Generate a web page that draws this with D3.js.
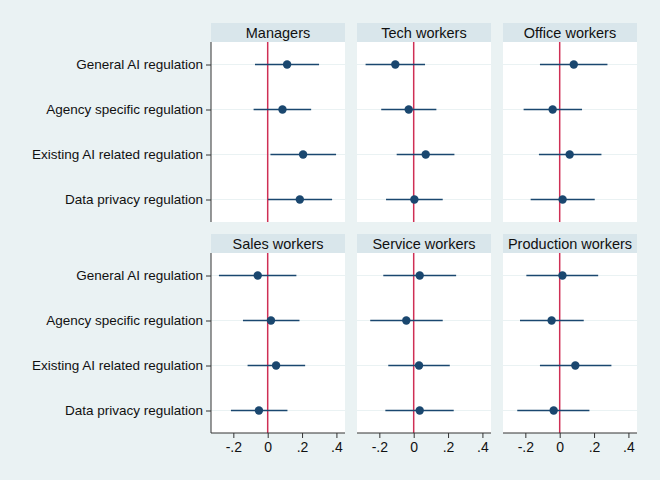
<!DOCTYPE html>
<html>
<head>
<meta charset="utf-8">
<script src="https://cdn.jsdelivr.net/npm/d3@7"></script>
<style>
  body { margin: 0; background: #eaf2f3; }
  svg { display: block; font-family: "Liberation Sans", Arial, sans-serif; }
</style>
</head>
<body>
<div class="chart"></div>
<script>
// categories and panels
const outcomes = ["General AI regulation", "Agency specific regulation", "Existing AI related regulation", "Data privacy regulation"];
const groups = ["Managers", "Tech workers", "Office workers", "Sales workers", "Service workers", "Production workers"];
const xTicks = [-0.2, 0, 0.2, 0.4];
const xTickLabels = ["-.2", "0", ".2", ".4"];

// point estimates, one row per group, in the order of outcomes
const estimates = [
  [0.113, 0.086, 0.206, 0.187],
  [-0.107, -0.029, 0.070, 0.004],
  [0.082, -0.041, 0.058, 0.017],
  [-0.058, 0.019, 0.049, -0.051],
  [0.035, -0.043, 0.031, 0.035],
  [0.016, -0.047, 0.091, -0.035]
];
// lower and upper confidence bounds
const lower = [
  [-0.074, -0.082, 0.016, 0.002],
  [-0.280, -0.189, -0.099, -0.161],
  [-0.115, -0.210, -0.121, -0.169],
  [-0.284, -0.144, -0.117, -0.214],
  [-0.177, -0.253, -0.148, -0.165],
  [-0.194, -0.231, -0.115, -0.247]
];
const upper = [
  [0.299, 0.253, 0.398, 0.375],
  [0.066, 0.132, 0.237, 0.169],
  [0.278, 0.130, 0.243, 0.204],
  [0.167, 0.185, 0.218, 0.115],
  [0.247, 0.169, 0.210, 0.233],
  [0.224, 0.140, 0.301, 0.173]
];

const W = 660, H = 480;
const panelW = 134, plotH = 180, headH = 19;
const colX = [211, 357, 503];
const rowY = [42, 253];   // top of plot area in each row
const font = "Liberation Sans, Arial, sans-serif";

const svg = d3.select(".chart").append("svg")
  .attr("width", W).attr("height", H);

svg.append("rect").attr("width", W).attr("height", H).attr("fill", "#eaf2f3");

const x = d3.scaleLinear().domain([-0.33, 0.45]).range([0, panelW]);
const y = d3.scalePoint().domain(outcomes).range([0, plotH]).padding(0.5);

groups.forEach((g, gi) => {
  const col = gi % 3, row = Math.floor(gi / 3);
  const p = svg.append("g").attr("transform", `translate(${colX[col]},${rowY[row]})`);

  // strip header
  p.append("rect").attr("x", 0).attr("y", -headH).attr("width", panelW).attr("height", headH)
    .attr("fill", "#d9e6eb");
  p.append("text").attr("x", panelW / 2).attr("y", -headH / 2).attr("dy", "0.37em")
    .attr("text-anchor", "middle").attr("font-size", "14.5px").attr("fill", "#111")
    .text(g);

  // plot region
  p.append("rect").attr("width", panelW).attr("height", plotH).attr("fill", "white");

  // gridlines
  p.selectAll(".grid").data(outcomes).enter().append("line")
    .attr("x1", 0).attr("x2", panelW)
    .attr("y1", d => y(d)).attr("y2", d => y(d))
    .attr("stroke", "#eaf2f3").attr("stroke-width", 1);

  // zero reference line
  p.append("line").attr("x1", x(0)).attr("x2", x(0)).attr("y1", 0).attr("y2", plotH)
    .attr("stroke", "#cf2f55").attr("stroke-width", 1.5);

  // confidence intervals
  p.selectAll(".ci").data(outcomes).enter().append("line")
    .attr("x1", (d, i) => x(lower[gi][i]))
    .attr("x2", (d, i) => x(upper[gi][i]))
    .attr("y1", d => y(d)).attr("y2", d => y(d))
    .attr("stroke", "#1a476f").attr("stroke-width", 1.5);

  // estimates
  p.selectAll(".pt").data(outcomes).enter().append("circle")
    .attr("cx", (d, i) => x(estimates[gi][i]))
    .attr("cy", d => y(d))
    .attr("r", 4.2)
    .attr("fill", "#1a476f");

  // left axis for the first column
  if (col === 0) {
    const ya = p.append("g").call(d3.axisLeft(y).tickSize(5).tickPadding(3));
    ya.attr("font-family", font);
    ya.select(".domain").attr("stroke", "#333").attr("d", `M0,0V${plotH}`);
    ya.selectAll(".tick line").attr("stroke", "#333");
    ya.selectAll("text").attr("font-size", "13.5px").attr("fill", "#111");
  }

  // bottom axis for the lower row
  if (row === 1) {
    const xa = p.append("g").attr("transform", `translate(0,${plotH})`)
      .call(d3.axisBottom(x).tickValues(xTicks).tickSize(5).tickPadding(4)
        .tickFormat((d, i) => xTickLabels[i]));
    xa.attr("font-family", font);
    xa.select(".domain").attr("stroke", "#333").attr("d", `M0,0H${panelW}`);
    xa.selectAll(".tick line").attr("stroke", "#333");
    xa.selectAll("text").attr("font-size", "14px").attr("fill", "#111");
  }
});
</script>
</body>
</html>
